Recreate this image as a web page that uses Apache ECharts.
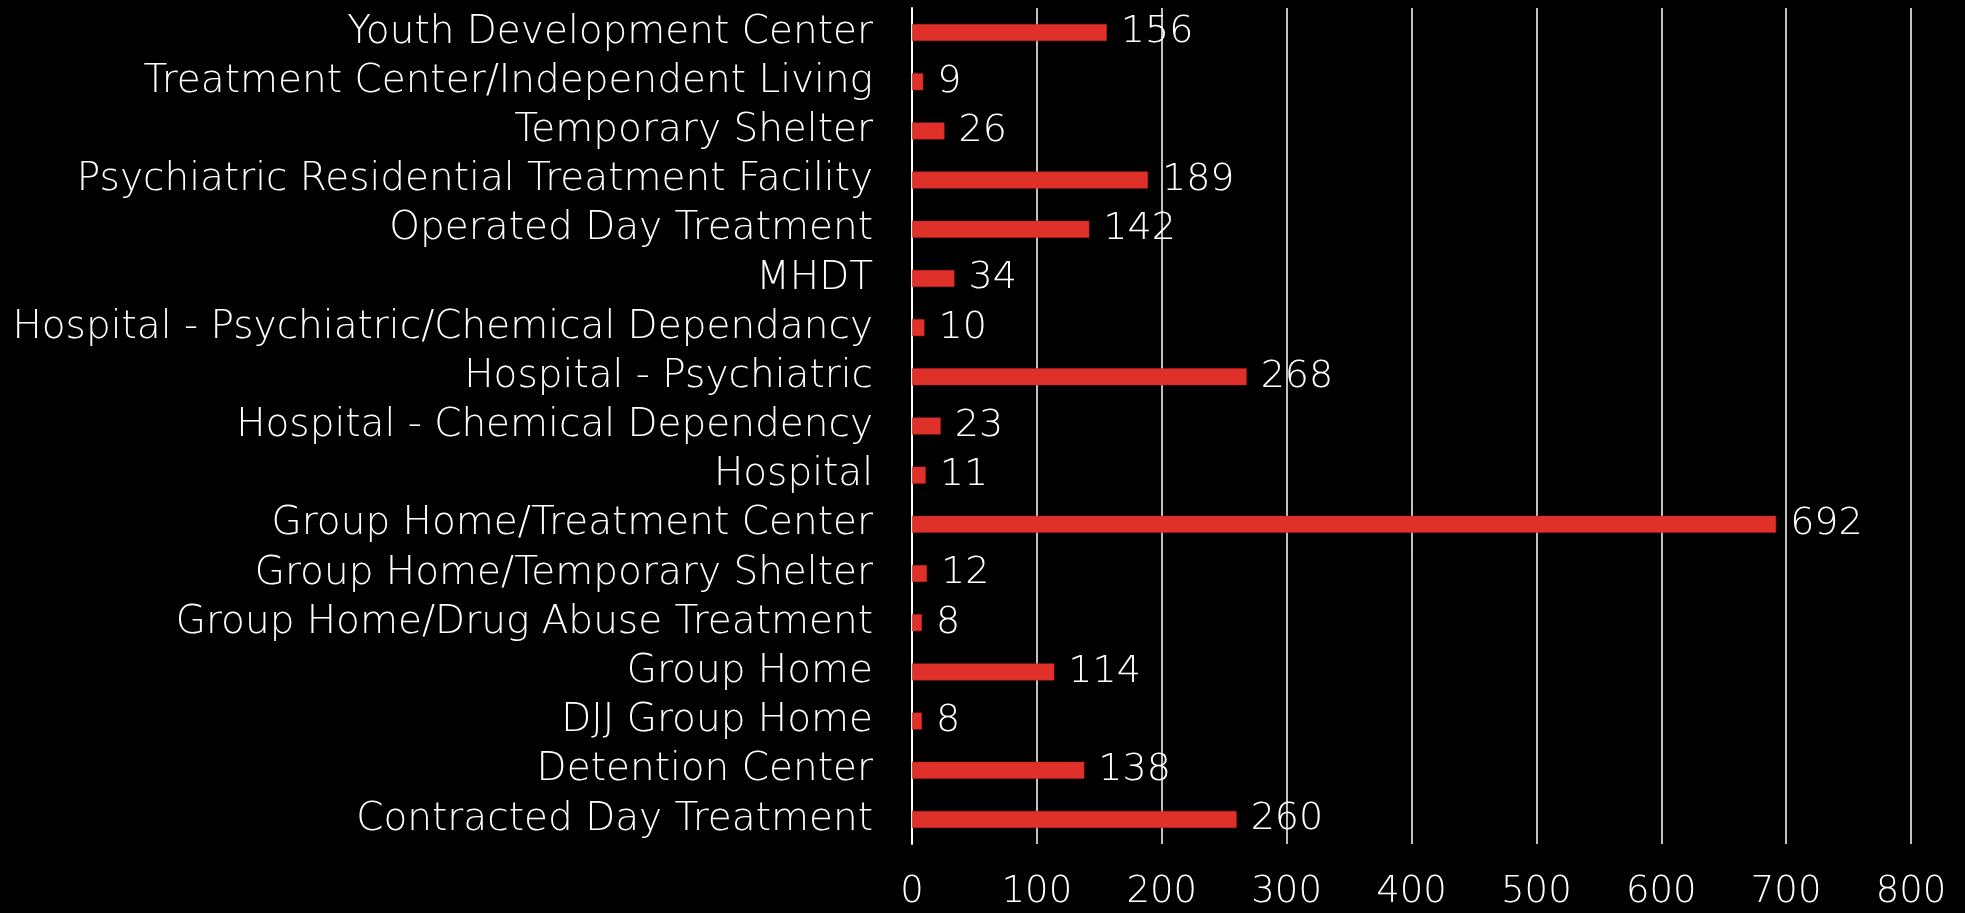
<!DOCTYPE html>
<html>
<head>
<meta charset="utf-8">
<script src="https://cdn.jsdelivr.net/npm/echarts@6/dist/echarts.min.js"></script>
<style>
  html, body { margin: 0; padding: 0; background: #000; }
  #main { width: 1965px; height: 913px; }
</style>
</head>
<body>
<div id="main"></div>
<script>
var chart = echarts.init(document.getElementById('main'), null, { renderer: 'canvas' });

// 类别（从上到下）
var categories = [
    'Youth Development Center',
    'Treatment Center/Independent Living',
    'Temporary Shelter',
    'Psychiatric Residential Treatment Facility',
    'Operated Day Treatment',
    'MHDT',
    'Hospital - Psychiatric/Chemical Dependancy',
    'Hospital - Psychiatric',
    'Hospital - Chemical Dependency',
    'Hospital',
    'Group Home/Treatment Center',
    'Group Home/Temporary Shelter',
    'Group Home/Drug Abuse Treatment',
    'Group Home',
    'DJJ Group Home',
    'Detention Center',
    'Contracted Day Treatment'
];
var counts = [156, 9, 26, 189, 142, 34, 10, 268, 23, 11, 692, 12, 8, 114, 8, 138, 260];
var xTicks = [0, 100, 200, 300, 400, 500, 600, 700, 800];

var fontFam = 'DejaVu Sans';

chart.setOption({
    backgroundColor: '#000000',
    animation: false,
    grid: {
        left: 912,
        right: 54,
        top: 8,
        bottom: 69,
        containLabel: false
    },
    xAxis: {
        type: 'value',
        min: xTicks[0],
        max: xTicks[xTicks.length - 1],
        interval: 100,
        axisLine: { show: false },
        axisTick: { show: false },
        splitLine: { show: true, lineStyle: { color: '#ffffff', width: 1.5 } },
        axisLabel: {
            color: '#ffffff',
            fontFamily: fontFam,
            fontWeight: 200,
            fontSize: 37,
            margin: 30
        }
    },
    yAxis: {
        type: 'category',
        data: categories,
        inverse: true,
        axisLine: { show: true, lineStyle: { color: '#ffffff', width: 2 } },
        axisTick: { show: false },
        axisLabel: {
            interval: 0,
            color: '#ffffff',
            fontFamily: fontFam,
            fontWeight: 200,
            fontSize: 39,
            margin: 39
        }
    },
    series: [{
        type: 'bar',
        data: counts,
        barWidth: 17,
        itemStyle: { color: '#e0302a', borderColor: '#b82620', borderWidth: 0.5 },
        label: {
            show: true,
            position: 'right',
            distance: 14,
            color: '#ffffff',
            fontFamily: fontFam,
            fontWeight: 200,
            fontSize: 38
        }
    }]
});
</script>
</body>
</html>
